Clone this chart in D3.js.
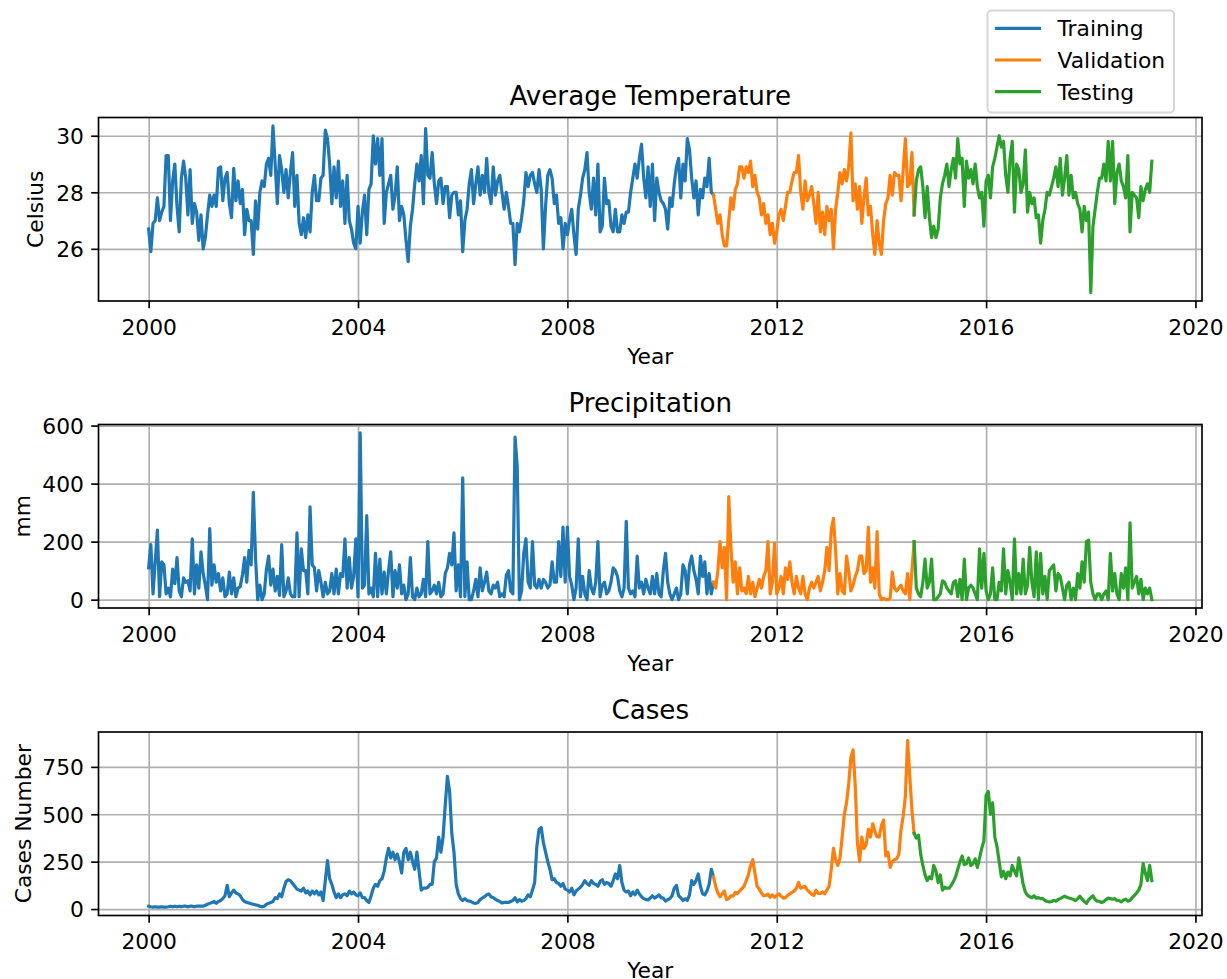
<!DOCTYPE html>
<html>
<head>
<meta charset="utf-8">
<script src="https://cdn.jsdelivr.net/npm/d3@7"></script>
<style>
body { margin: 0; background: #fff; }
svg { font-family: "DejaVu Sans", sans-serif; }
.axis text { font-size: 21.8px; font-family: "DejaVu Sans", sans-serif; fill: #000; }
.axis line { stroke: #000; stroke-width: 1.67; }
.axis path { display: none; }
.grid line { stroke: #b0b0b0; stroke-width: 1.67; }
.grid path { display: none; }
.frame { fill: none; stroke: #000; stroke-width: 1.67; }
.title { font-size: 26.2px; text-anchor: middle; }
.label { font-size: 21.8px; text-anchor: middle; }
.series { fill: none; stroke-width: 3.2; stroke-linejoin: round; stroke-linecap: square; }
</style>
</head>
<body>
<script>

// semi-monthly samples, starting January 2000
var startYear = 2000, stepsPerYear = 24;

var temperature = [
  26.7, 25.9, 26.9, 27.0, 27.8, 27.0, 27.3, 27.5, 29.3, 29.3, 27.0, 28.4, 29.0, 27.5, 26.6, 28.5, 29.1, 28.5, 27.2, 28.8, 26.9, 27.6, 27.3, 26.3,
  27.2, 26.0, 26.4, 27.2, 27.9, 27.5, 27.9, 27.5, 28.85, 28.9, 27.7, 28.5, 28.7, 27.6, 27.1, 28.85, 27.7, 28.4, 27.6, 28.1, 26.5, 27.4, 27.0, 27.0,
  25.8, 27.7, 26.7, 28.0, 28.4, 28.2, 29.0, 29.2, 28.6, 30.35, 29.0, 27.6, 29.3, 28.8, 28.0, 28.8, 27.8, 28.7, 29.4, 27.5, 28.6, 26.9, 26.5, 27.1,
  26.4, 27.2, 26.6, 28.0, 28.6, 27.7, 27.7, 28.5, 28.6, 30.2, 29.9, 29.0, 27.6, 28.9, 27.8, 29.1, 27.5, 28.4, 26.9, 28.6, 27.0, 26.7, 26.2, 26.0,
  27.5, 26.2, 27.3, 27.9, 26.5, 28.1, 28.3, 30.0, 29.0, 29.9, 28.6, 29.9, 26.9, 28.0, 28.3, 28.6, 27.4, 27.9, 28.9, 27.0, 27.5, 27.2, 26.3, 25.55,
  26.8, 27.4, 28.3, 29.0, 28.4, 29.3, 27.6, 30.25, 28.6, 28.5, 29.4, 28.3, 27.6, 28.4, 28.5, 27.6, 28.2, 28.2, 27.1, 27.9, 28.0, 28.0, 27.2, 27.7,
  25.9, 27.0, 27.4, 28.3, 28.8, 27.6, 28.3, 28.9, 27.9, 28.6, 28.0, 29.2, 28.0, 27.6, 28.9, 27.9, 28.4, 28.6, 28.0, 27.4, 28.0, 27.5, 26.9, 26.9,
  25.44, 26.9, 26.6, 27.1, 27.7, 28.7, 28.2, 28.6, 28.7, 28.3, 28.0, 28.8, 28.1, 26.0, 27.5, 28.6, 28.8, 28.5, 27.6, 27.9, 26.9, 27.1, 26.0, 26.9,
  26.5, 27.0, 27.4, 26.5, 25.8, 27.4, 27.9, 28.5, 28.8, 29.4, 28.0, 27.4, 28.5, 27.2, 29.0, 26.6, 26.8, 28.5, 27.6, 27.7, 26.8, 26.6, 27.4, 26.6,
  26.6, 27.2, 26.9, 27.3, 27.3, 28.0, 28.5, 29.0, 28.5, 29.2, 29.7, 28.5, 27.8, 28.9, 27.5, 29.0, 27.0, 28.5, 28.0, 27.7, 27.6, 27.4, 26.7, 27.8,
  27.5, 28.3, 28.9, 29.2, 27.8, 29.0, 28.4, 29.9, 29.5, 28.5, 27.8, 28.4, 27.2, 28.1, 27.8, 28.5, 28.2, 29.2, 28.0, 27.9, 27.4, 26.9, 27.2, 26.5,
  26.1, 26.1, 27.0, 27.8, 27.4, 28.1, 28.3, 28.9, 28.9, 28.5, 28.9, 28.7, 29.1, 28.2, 28.6, 28.0, 27.8, 27.2, 27.6, 26.9, 27.2, 26.5, 26.9, 26.2,
  26.6, 27.2, 27.4, 27.0, 27.5, 28.0, 28.0, 28.4, 28.7, 28.7, 29.3, 28.0, 27.4, 28.4, 27.7, 27.9, 28.2, 27.6, 26.9, 28.0, 26.6, 27.3, 26.5, 27.5,
  27.0, 27.4, 26.0, 27.4, 28.0, 28.7, 28.3, 28.8, 28.4, 28.9, 30.1, 27.7, 28.3, 27.4, 28.2, 26.9, 27.8, 28.5, 27.2, 27.5, 26.5, 25.8, 27.0, 26.2,
  25.8, 27.0, 27.6, 27.8, 28.6, 27.9, 28.7, 28.6, 28.6, 27.7, 28.8, 29.9, 28.2, 28.3, 29.4, 27.2, 28.4, 28.8, 28.9, 28.2, 27.1, 28.2, 27.1, 26.4,
  26.8, 26.4, 26.7, 27.8, 28.3, 28.6, 29.0, 28.2, 28.8, 29.2, 28.5, 29.9, 29.0, 29.2, 27.5, 29.1, 28.5, 28.8, 28.3, 29.0, 28.2, 27.8, 28.0, 26.8,
  28.4, 28.6, 27.8, 28.9, 29.2, 29.6, 30.0, 29.6, 29.8, 28.6, 28.0, 29.2, 29.8, 27.3, 29.0, 28.8, 28.0, 28.3, 29.5, 27.3, 28.0, 27.6, 27.8, 27.1,
  27.2, 26.2, 27.0, 27.4, 28.0, 27.9, 28.2, 28.5, 28.9, 28.2, 29.2, 27.9, 28.5, 29.3, 27.9, 28.6, 27.8, 28.0, 27.6, 27.4, 26.6, 27.5, 27.0, 27.3,
  24.45, 26.8, 27.4, 28.0, 28.5, 28.5, 29.0, 28.4, 29.8, 28.4, 29.8, 27.6, 28.7, 29.0, 28.4, 28.2, 27.8, 29.3, 26.6, 28.0, 27.9, 27.8, 27.1, 28.2,
  27.7, 28.1, 28.3, 28.0, 29.1
];

var precipitation = [
  110, 190, 20, 130, 240, 10, 130, 120, 20, 40, 10, 105, 55, 145, 30, 10, 75, 60, 65, 30, 210, 20, 120, 40,
  165, 90, 50, 0, 245, 50, 120, 60, 90, 30, 75, 10, 20, 95, 20, 75, 10, 40, 45, 85, 145, 60, 170, 120,
  370, 145, 0, 50, 0, 20, 105, 150, 50, 105, 30, 80, 15, 190, 10, 30, 75, 20, 10, 10, 230, 10, 175, 100,
  100, 20, 320, 120, 110, 30, 100, 60, 10, 60, 20, 30, 90, 20, 105, 20, 90, 80, 210, 40, 145, 40, 80, 210,
  10, 575, 40, 50, 290, 20, 40, 10, 160, 10, 140, 20, 95, 20, 100, 165, 10, 100, 40, 120, 20, 50, 0, 20,
  145, 10, 0, 40, 10, 20, 70, 10, 200, 20, 30, 50, 20, 60, 10, 20, 90, 110, 160, 120, 230, 30, 120, 10,
  420, 10, 130, 0, 0, 30, 70, 10, 110, 30, 60, 95, 30, 20, 50, 40, 60, 10, 20, 10, 85, 100, 30, 20,
  560, 460, 0, 30, 160, 210, 60, 40, 200, 50, 40, 70, 40, 70, 60, 40, 50, 130, 60, 60, 200, 80, 250, 60,
  250, 80, 50, 0, 40, 210, 10, 80, 20, 0, 100, 40, 20, 60, 200, 10, 50, 60, 20, 30, 60, 110, 100, 80,
  30, 10, 40, 270, 40, 20, 30, 10, 150, 40, 60, 20, 70, 40, 20, 80, 20, 90, 20, 10, 100, 160, 60, 20,
  0, 20, 40, 0, 20, 120, 100, 20, 120, 150, 100, 70, 20, 150, 80, 130, 20, 90, 20, 60, 40, 100, 200, 110,
  180, 0, 355, 180, 60, 130, 20, 110, 30, 40, 20, 80, 20, 60, 10, 40, 70, 40, 80, 100, 200, 20, 60, 195,
  20, 40, 80, 20, 110, 70, 130, 60, 20, 80, 40, 20, 80, 20, 0, 40, 60, 40, 60, 80, 30, 60, 100, 180,
  100, 240, 280, 170, 20, 90, 30, 20, 150, 100, 30, 50, 80, 100, 150, 150, 90, 100, 250, 60, 110, 40, 235, 20,
  0, 5, 0, 0, 5, 95, 40, 30, 40, 50, 30, 20, 90, 0, 100, 200, 40, 20, 10, 60, 140, 40, 60, 140,
  0, 0, 10, 20, 65, 60, 40, 30, 20, 60, 65, 10, 70, 0, 140, 0, 40, 50, 40, 20, 0, 175, 40, 160,
  30, 0, 20, 110, 0, 0, 60, 30, 175, 20, 100, 60, 0, 210, 20, 90, 20, 140, 20, 50, 180, 60, 10, 165,
  0, 160, 20, 80, 0, 100, 110, 120, 30, 90, 80, 40, 0, 50, 60, 0, 40, 0, 90, 40, 130, 60, 200, 205,
  60, 20, 0, 20, 20, 0, 20, 30, 0, 160, 30, 90, 20, 0, 90, 40, 110, 0, 265, 40, 60, 80, 20, 70,
  0, 40, 20, 40, 0
];

var cases = [
  15, 12, 10, 12, 10, 10, 12, 10, 10, 12, 15, 12, 15, 12, 15, 12, 15, 15, 12, 15, 15, 12, 15, 15,
  15, 15, 20, 25, 30, 35, 40, 30, 40, 45, 55, 70, 125, 65, 85, 100, 85, 80, 70, 50, 40, 35, 32, 28,
  25, 22, 20, 15, 12, 15, 25, 30, 35, 40, 60, 55, 80, 65, 110, 145, 155, 150, 135, 120, 105, 100, 95, 110,
  85, 95, 75, 95, 80, 95, 75, 90, 45, 150, 255, 160, 130, 90, 60, 80, 60, 75, 80, 70, 95, 80, 90, 75,
  70, 85, 60, 60, 45, 35, 70, 110, 130, 120, 150, 160, 200, 270, 320, 270, 300, 260, 290, 250, 190, 300, 320, 260,
  300, 250, 210, 300, 200, 100, 110, 110, 115, 130, 130, 250, 270, 380, 300, 380, 550, 700, 620, 400, 300, 130, 80, 55,
  45, 55, 45, 42, 38, 32, 30, 35, 50, 58, 65, 75, 80, 65, 60, 52, 45, 40, 32, 35, 35, 35, 40, 45,
  60, 38, 50, 42, 45, 55, 75, 65, 100, 140, 330, 420, 430, 350, 300, 250, 210, 155, 160, 140, 135, 120, 135, 105,
  100, 90, 110, 75, 95, 105, 115, 130, 150, 135, 125, 150, 135, 130, 120, 145, 155, 130, 140, 135, 120, 150, 185, 160,
  230, 140, 100, 90, 95, 70, 90, 75, 100, 80, 65, 55, 50, 48, 58, 70, 58, 65, 75, 60, 58, 42, 50, 55,
  70, 110, 125, 70, 60, 45, 55, 45, 75, 150, 130, 150, 185, 120, 80, 75, 95, 130, 210, 170, 120, 85, 65, 80,
  95, 50, 55, 70, 68, 88, 82, 95, 108, 120, 150, 180, 230, 260, 190, 120, 105, 85, 70, 72, 78, 62, 75, 62,
  72, 80, 68, 58, 60, 72, 80, 88, 95, 110, 140, 110, 115, 120, 100, 90, 78, 72, 100, 82, 82, 90, 80, 100,
  120, 210, 320, 260, 230, 270, 380, 500, 560, 660, 800, 840, 650, 350, 250, 380, 320, 340, 420, 380, 450, 410, 380, 380,
  440, 470, 280, 300, 220, 250, 260, 265, 290, 420, 490, 600, 890, 700, 520, 400, 375, 390, 290, 230, 180, 150, 170, 160,
  230, 200, 140, 180, 100, 115, 110, 110, 125, 145, 170, 210, 250, 280, 235, 240, 270, 230, 240, 265, 220, 270, 320, 360,
  600, 620, 500, 560, 380, 330, 250, 170, 200, 160, 195, 175, 230, 200, 175, 270, 200, 130, 90, 72, 65, 60, 70, 58,
  60, 55, 55, 45, 40, 38, 40, 45, 42, 50, 55, 62, 68, 62, 58, 55, 50, 45, 55, 68, 52, 40, 30, 48,
  60, 70, 50, 42, 40, 35, 40, 50, 58, 55, 52, 55, 45, 45, 38, 48, 52, 42, 45, 60, 72, 85, 100, 130,
  240, 190, 150, 230, 150
];

// index where each split ends (shared point so the line stays joined)
var trainEnd = 259, validEnd = 351;
var splitNames = ["Training", "Validation", "Testing"];
var splitColors = ["#1f77b4", "#ff7f0e", "#2ca02c"];

var yearTicks = [2000, 2004, 2008, 2012, 2016, 2020];
var tempTicks = [26, 28, 30];
var precipTicks = [0, 200, 400, 600];
var casesTicks = [0, 250, 500, 750];

var W = 1227, H = 979;
var left = 98.5, right = 1202, plotH = 183.5;

var svg = d3.select("body").append("svg")
    .attr("width", W)
    .attr("height", H);

var n = temperature.length;
var years = d3.range(n).map(function(i) { return startYear + i / stepsPerYear; });

// matplotlib style 5% margins
function padded(ext) {
  var m = (ext[1] - ext[0]) * 0.05;
  return [ext[0] - m, ext[1] + m];
}

var x = d3.scaleLinear().domain(padded(d3.extent(years))).range([left, right]);

var panels = [
  {title: "Average Temperature", ylabel: "Celsius", values: temperature, ticks: tempTicks, top: 117.5, labelX: 43},
  {title: "Precipitation", ylabel: "mm", values: precipitation, ticks: precipTicks, top: 424.5, labelX: 29.5},
  {title: "Cases", ylabel: "Cases Number", values: cases, ticks: casesTicks, top: 732, labelX: 30.5}
];

var splits = [[0, trainEnd], [trainEnd, validEnd], [validEnd, n - 1]];

panels.forEach(function(p) {
  var bottom = p.top + plotH;
  var y = d3.scaleLinear().domain(padded(d3.extent(p.values))).range([bottom, p.top]);

  // grid lines
  svg.append("g")
      .attr("class", "grid")
      .attr("transform", "translate(0," + bottom + ")")
      .call(d3.axisBottom(x).tickValues(yearTicks).tickSize(-plotH).tickFormat(""));
  svg.append("g")
      .attr("class", "grid")
      .attr("transform", "translate(" + left + ",0)")
      .call(d3.axisLeft(y).tickValues(p.ticks).tickSize(-(right - left)).tickFormat(""));

  // one line per split
  var line = d3.line()
      .x(function(i) { return x(years[i]); })
      .y(function(i) { return y(p.values[i]); });

  splits.forEach(function(s, k) {
    svg.append("path")
        .attr("class", "series")
        .style("stroke", splitColors[k])
        .attr("d", line(d3.range(s[0], s[1] + 1)));
  });

  // axes
  var xa = svg.append("g")
      .attr("class", "axis")
      .attr("transform", "translate(0," + bottom + ")")
      .call(d3.axisBottom(x).tickValues(yearTicks).tickFormat(d3.format("d"))
          .tickSize(7.3).tickSizeOuter(0));
  xa.selectAll("text").attr("y", 33.5).attr("dy", null);

  var ya = svg.append("g")
      .attr("class", "axis")
      .attr("transform", "translate(" + left + ",0)")
      .call(d3.axisLeft(y).tickValues(p.ticks).tickFormat(d3.format("d"))
          .tickSize(7.3).tickPadding(7.3).tickSizeOuter(0));
  ya.selectAll("text").attr("dy", "0.36em");

  svg.append("rect")
      .attr("class", "frame")
      .attr("x", left).attr("y", p.top)
      .attr("width", right - left).attr("height", plotH);

  svg.append("text")
      .attr("class", "title")
      .attr("x", (left + right) / 2)
      .attr("y", p.top - 13)
      .text(p.title);

  svg.append("text")
      .attr("class", "label")
      .attr("x", (left + right) / 2)
      .attr("y", bottom + 62.6)
      .text("Year");

  svg.append("text")
      .attr("class", "label")
      .attr("transform", "translate(" + p.labelX + "," + (p.top + plotH / 2) + ") rotate(-90)")
      .text(p.ylabel);
});

// legend
var legend = svg.append("g").attr("transform", "translate(987.5,10.5)");
legend.append("rect")
    .attr("width", 186.5).attr("height", 102)
    .attr("rx", 4)
    .style("fill", "#fff").style("fill-opacity", 0.8)
    .style("stroke", "#d6d6d6").style("stroke-width", 2);

splitNames.forEach(function(name, k) {
  var ly = 17.8 + k * 31.7;
  legend.append("line")
      .attr("x1", 7.5).attr("x2", 53.5)
      .attr("y1", ly).attr("y2", ly)
      .style("stroke", splitColors[k]).style("stroke-width", 3.2);
  legend.append("text")
      .attr("x", 70)
      .attr("y", ly + 7.8)
      .style("font-size", "21.8px")
      .text(name);
});

</script>
</body>
</html>
